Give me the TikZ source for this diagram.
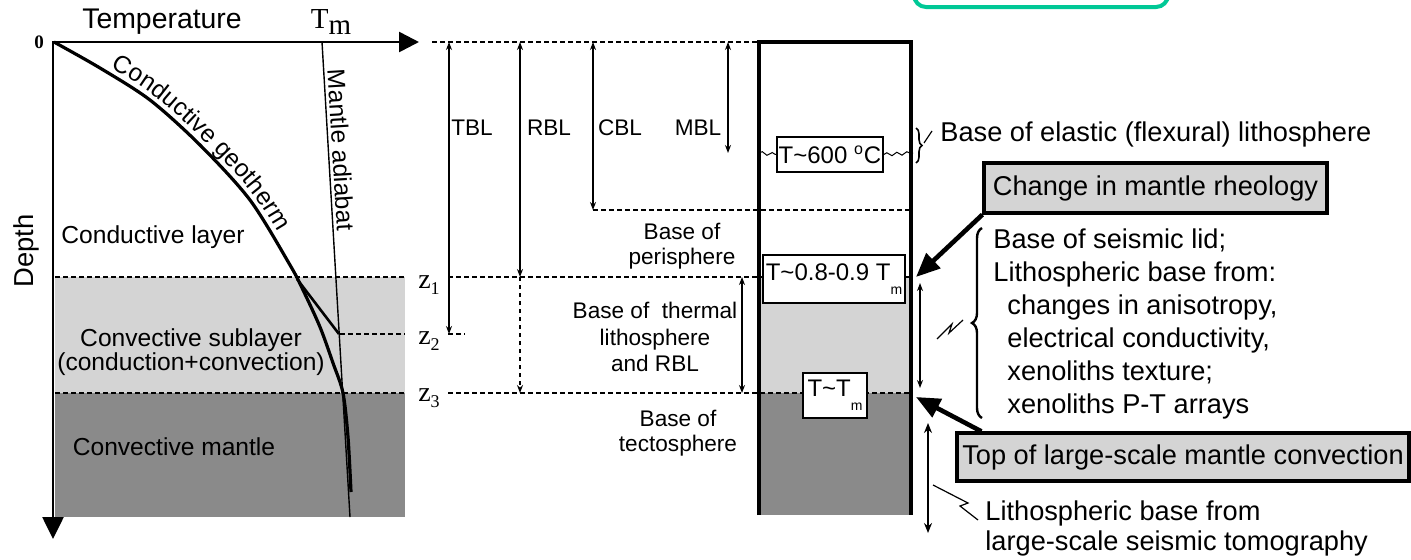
\documentclass[tikz,border=0pt]{standalone}
\usepackage{fontspec}
\setmainfont{Liberation Sans}
\newfontfamily\timesfont{Liberation Serif}
\usetikzlibrary{arrows.meta,decorations.pathmorphing,decorations.pathreplacing,decorations.text}

\definecolor{sublayer}{RGB}{212,212,212}
\definecolor{mantle}{RGB}{138,138,138}
\definecolor{frametop}{RGB}{0,200,150}

\newcommand{\zlabel}[1]{{\timesfont z\raisebox{-3pt}{\fontsize{9}{9}\selectfont #1}}}
\newcommand{\tmsub}{\raisebox{-7pt}{\fontsize{7}{7}\selectfont m}}

\begin{document}
\begin{tikzpicture}[
        x=0.5pt, y=-0.5pt,
        every node/.style={inner sep=0pt},
        lbl/.style={font=\fontsize{12.3}{12}\selectfont, align=center},
        midlbl/.style={font=\fontsize{11.3}{12.5}\selectfont, align=center},
        note/.style={font=\fontsize{13.6}{16.5}\selectfont, align=left},
        dotline/.style={line width=1.3pt, dash pattern=on 2.3pt off 1.7pt},
        dimarr/.style={{Stealth[length=4pt,width=3pt]}-{Stealth[length=4pt,width=3pt]}, line width=0.6pt},
        callout/.style={-{Triangle[length=12pt,width=10pt]}, line width=2.3pt},
        wavy/.style={decorate, decoration={snake, segment length=5pt, amplitude=0.8pt}, line width=0.5pt},
        tempbox/.style={draw, fill=white, line width=0.8pt, font=\fontsize{12}{12}\selectfont},
        greybox/.style={draw, fill=sublayer, line width=1.6pt, font=\fontsize{13.6}{14}\selectfont}
    ]
        \useasboundingbox (0,0) rectangle (1411,559);
        \draw[frametop, line width=2pt, rounded corners=6pt] (914,-30) rectangle (1168,7);

        % layers
        \fill[sublayer] (55,277) rectangle (405,393);
        \fill[mantle] (55,393) rectangle (405,517);
        \fill[sublayer] (759,277) rectangle (911,393);
        \fill[mantle] (759,393) rectangle (911,515);

        \foreach \y in {277,393}
            \draw[dotline] (55,\y) -- (405,\y) (448,\y) -- (911,\y);
        \draw[dotline] (340,334) -- (405,334) (448,334) -- (465,334);
        \draw[dotline] (593,210) -- (911,210);
        \draw[dotline] (432,42) -- (759,42);

        % axes
        \coordinate (origin) at (53,42);
        \coordinate (tmax) at (419,42);
        \coordinate (dmax) at (53,539);
        \draw[{Triangle[length=10pt,width=10pt]}-{Triangle[length=11pt,width=10.5pt]}, line width=1.3pt] (tmax) -- (origin) -- (dmax);

        \node[font=\fontsize{14.2}{14}\selectfont] (temp) at (162,22) {Temperature};
        \node[font=\fontsize{14.5}{14}\selectfont] (tm) at (331,22) {\timesfont T\raisebox{-3pt}{m}};
        \node[font=\fontsize{9.5}{9}\selectfont\bfseries] (zero) at (39,42) {\timesfont 0};
        \node[font=\fontsize{13.7}{14}\selectfont, rotate=90] (depth) at (26,251) {Depth};

        % geotherm and adiabat
        \draw[line width=0.7pt] (322,42) -- (350,517);
        \draw[line width=1.6pt] plot[smooth] coordinates {(54,42) (100,68) (150,100) (200,145) (250,200) (290,265) (303,290) (320,327) (333,363) (343,393) (348,437) (351,492)};
        \draw[line width=1.3pt] (297,279) -- (339,334);
        \path[decorate, decoration={text along path, text={|\fontsize{12.3}{12}\selectfont|Conductive geotherm}, text align={left indent=31pt}, raise=3pt}]
            plot[smooth] coordinates {(54,42) (100,68) (150,100) (200,145) (250,200) (290,265) (303,290)};
        \node[lbl, rotate=-86.6] (adiabat) at (341,150) {Mantle adiabat};

        \node[lbl] (condlayer) at (153,237) {Conductive layer};
        \node[lbl] (sublay) at (191,352) {Convective sublayer\\(conduction+convection)};
        \node[lbl] (mantlelbl) at (174,447) {Convective mantle};

        \node[font=\fontsize{14}{14}\selectfont] (z1) at (429,285) {\zlabel{1}};
        \node[font=\fontsize{14}{14}\selectfont] (z2) at (429,341) {\zlabel{2}};
        \node[font=\fontsize{14}{14}\selectfont] (z3) at (429,398) {\zlabel{3}};

        % boundary layers
        \coordinate (tbltop) at (449,42);  \coordinate (tblbot) at (449,334);
        \coordinate (rbltop) at (520,42);  \coordinate (rblbot) at (520,277);
        \coordinate (rblend) at (520,393);
        \coordinate (cbltop) at (593,42);  \coordinate (cblbot) at (593,210);
        \coordinate (mbltop) at (728,42);  \coordinate (mblbot) at (728,153);
        \coordinate (thtop) at (742,277);  \coordinate (thbot) at (742,393);
        \draw[dimarr] (tbltop) -- (tblbot);
        \draw[dimarr] (rbltop) -- (rblbot);
        \draw[-{Stealth[length=4pt,width=3pt]}, line width=0.6pt, dash pattern=on 2pt off 2pt] (rblbot) -- (rblend);
        \draw[dimarr] (cbltop) -- (cblbot);
        \draw[dimarr] (mbltop) -- (mblbot);
        \draw[dimarr] (thtop) -- (thbot);

        \node[midlbl] (tbl) at (472,128) {TBL};
        \node[midlbl] (rbl) at (549,128) {RBL};
        \node[midlbl] (cbl) at (620,128) {CBL};
        \node[midlbl] (mbl) at (698,128) {MBL};
        \node[midlbl] (peri) at (682,246) {Base of\\perisphere};
        \node[midlbl, font=\fontsize{11.3}{13.2}\selectfont] (thermal) at (655,337) {Base of\ \ thermal\\lithosphere\\and RBL};
        \node[midlbl] (tecto) at (678,433) {Base of\\tectosphere};

        % column
        \draw[line width=1.6pt] (759,515) -- (759,42) -- (911,42) -- (911,515);
        \node[tempbox, minimum width=53pt, minimum height=17.5pt] (t600) at (830,154.5) {T\textasciitilde600 \textsuperscript{o}C};
        \draw[wavy] (759,153) -- (t600.west);
        \draw[wavy] (t600.east) -- (913,153);
        \node[tempbox, minimum width=71pt, minimum height=24pt] (t089) at (834,279) {T\textasciitilde0.8-0.9 T\tmsub};
        \node[tempbox, minimum width=32pt, minimum height=22.5pt] (ttm) at (835,395.5) {T\textasciitilde T\tmsub};

        % right notes
        \draw[line width=0.8pt, decorate, decoration={brace, amplitude=3pt}] (916,128) -- (916,163);
        \draw[line width=0.6pt] (924,143) -- (932,131);
        \node[note, anchor=base west] (elastic) at (940,141) {Base of elastic (flexural) lithosphere};

        \node[greybox, minimum width=171.5pt, minimum height=25pt] (rheology) at (1155.5,188) {Change in mantle rheology};
        \coordinate (rheotip) at (916,277);
        \draw[callout] (rheology.south west) -- (rheotip);

        \draw[line width=1.2pt, decorate, decoration={brace, amplitude=5pt}] (982,418) -- (982,228);
        \node[note, anchor=north west] (seismic) at (993,228) {Base of seismic lid;\\Lithospheric base from:\\\hspace*{7pt}changes in anisotropy,\\\hspace*{7pt}electrical conductivity,\\\hspace*{7pt}xenoliths texture;\\\hspace*{7pt}xenoliths P-T arrays};
        \coordinate (lidtop) at (920,283);  \coordinate (lidbot) at (920,388);
        \draw[dimarr] (lidtop) -- (lidbot);
        \draw[line width=0.6pt] (937,339) -- (952,324) -- (949,333) -- (963,320);

        \node[greybox, minimum width=226pt, minimum height=24pt] (convtop) at (1183,457) {Top of large-scale mantle convection};
        \coordinate (convtip) at (916,397);
        \draw[callout] ([xshift=13pt]convtop.north west) -- (convtip);

        \coordinate (tomotop) at (928,423);  \coordinate (tomobot) at (928,533);
        \draw[{Stealth[length=5pt,width=4pt]}-{Stealth[length=5pt,width=4pt]}, line width=0.7pt] (tomotop) -- (tomobot);
        \draw[line width=0.6pt] (933,485) -- (968,503) -- (960,506) -- (978,520);
        \node[note, anchor=north west, font=\fontsize{13.6}{15}\selectfont] (tomo) at (985,500) {Lithospheric base from\\large-scale seismic tomography};
    \end{tikzpicture}
\end{document}
